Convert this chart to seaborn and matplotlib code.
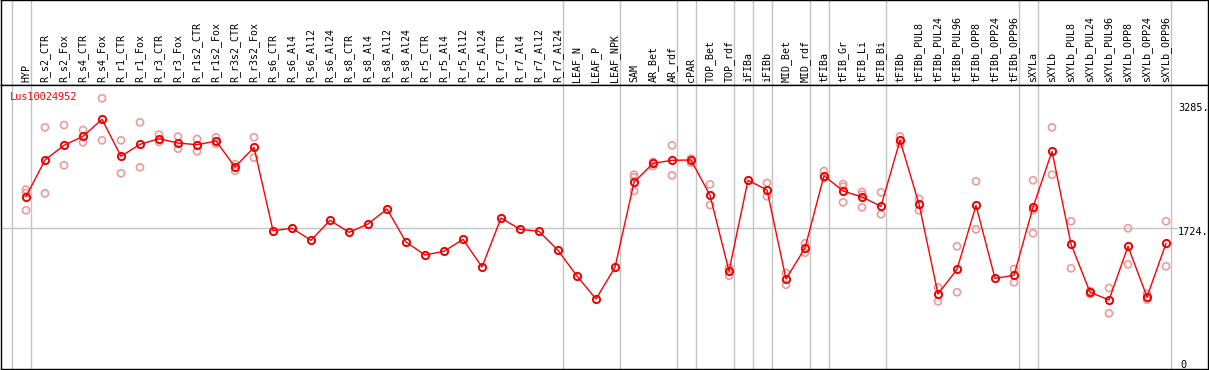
import numpy as np
import pandas as pd
import matplotlib
matplotlib.use("Agg")
import matplotlib.pyplot as plt
import seaborn as sns

title = "Lus10024952"

groups = [
    ["HYP"],
    ["R_s2_CTR", "R_s2_Fox", "R_s4_CTR", "R_s4_Fox", "R_r1_CTR", "R_r1_Fox",
     "R_r3_CTR", "R_r3_Fox", "R_r1s2_CTR", "R_r1s2_Fox", "R_r3s2_CTR", "R_r3s2_Fox",
     "R_s6_CTR", "R_s6_Al4", "R_s6_Al12", "R_s6_Al24", "R_s8_CTR", "R_s8_Al4",
     "R_s8_Al12", "R_s8_Al24", "R_r5_CTR", "R_r5_Al4", "R_r5_Al12", "R_r5_Al24",
     "R_r7_CTR", "R_r7_Al4", "R_r7_Al12", "R_r7_Al24"],
    ["LEAF_N", "LEAF_P", "LEAF_NPK"],
    ["SAM", "AR_Bet", "AR_rdf"],
    ["cPAR"],
    ["TOP_Bet", "TOP_rdf"],
    ["iFIBa"],
    ["iFIBb"],
    ["MID_Bet", "MID_rdf"],
    ["tFIBa"],
    ["tFIB_Gr", "tFIB_Li", "tFIB_Bi"],
    ["tFIBb", "tFIBb_PUL8", "tFIBb_PUL24", "tFIBb_PUL96", "tFIBb_OPP8",
     "tFIBb_OPP24", "tFIBb_OPP96"],
    ["sXYLa"],
    ["sXYLb", "sXYLb_PUL8", "sXYLb_PUL24", "sXYLb_PUL96", "sXYLb_OPP8",
     "sXYLb_OPP24", "sXYLb_OPP96"],
]

means = [
    2121,
    2582, 2766, 2879, 3093, 2628, 2779, 2849, 2795, 2774, 2820, 2494, 2741,
    1694, 1724, 1573, 1824, 1673, 1778, 1966, 1551, 1388, 1435, 1585, 1237,
    1853, 1711, 1686, 1447,
    1124, 835, 1234,
    2301, 2540, 2578,
    2582,
    2138, 1187,
    2327,
    2205,
    1087, 1476,
    2385,
    2192, 2117, 2000,
    2829, 2029, 898, 1208, 2012, 1095, 1133,
    1987,
    2691, 1526, 920, 823, 1497, 861, 1535,
]

replicates = [
    [2209, 2167, 1950],
    [2992, 2163], [3021, 2515], [2958, 2804], [3357, 2829], [2829, 2415],
    [3055, 2490], [2900, 2808], [2875, 2724], [2845, 2691], [2867, 2783],
    [2528, 2447], [2867, 2611],
    [], [], [], [], [], [], [], [], [], [], [], [], [], [], [], [],
    [], [], [],
    [2397, 2364, 2192], [2557, 2506], [2766, 2389],
    [2598, 2548],
    [2276, 2016], [1225, 1128],
    [],
    [2293, 2126],
    [1162, 1015], [1535, 1417],
    [2443, 2356],
    [2280, 2246, 2050], [2180, 2146, 1987], [2176, 1900],
    [2879, 2783], [2092, 1950], [982, 806], [1497, 920], [2314, 1711], [],
    [1212, 1045],
    [2327, 1953, 1661],
    [2992, 2397], [1812, 1221], [936, 898], [974, 656], [1724, 1271],
    [898, 827], [1812, 1246],
]

y_ticks = [0, 1724, 3285]
y_tick_labels = ["0", "1724.", "3285."]

labels = [c for g in groups for c in g]
n = len(labels)
idx = np.arange(n)

df_mean = pd.DataFrame({"idx": idx, "value": means})
rows = [(i, v) for i, reps in enumerate(replicates) for v in reps]
df_rep = pd.DataFrame(rows, columns=["idx", "value"])

sns.set_style("white")
plt.rcParams["font.family"] = ["DejaVu Sans Mono", "DejaVu Sans"]

W, H = 1209, 370
fig = plt.figure(figsize=(W / 100, H / 100), dpi=100)

px = 1 / W
py = 1 / H
ax_lab = fig.add_axes([1 * px, (H - 85) * py, 1207 * px, 85 * py])
ax = fig.add_axes([1 * px, 1 * py, 1207 * px, 284 * py])

xlim = ((1 - 26) / 19, (1208 - 26) / 19)
for a in (ax, ax_lab):
    a.set_xlim(*xlim)
    a.set_xticks([])
    a.set_yticks([])
    for s in a.spines.values():
        s.set_color("black")
        s.set_linewidth(1.0)

ax.set_ylim(-44, 3524)
ax_lab.set_ylim(0, 1)

# group separators
bounds = [-1]
acc = -1
for g in groups:
    acc += len(g)
    bounds.append(acc)
gray = "#c4c4c4"
for b in bounds:
    ax.axvline(b + 0.24, color=gray, lw=1.0, zorder=0)
    ax_lab.axvline(b + 0.24, color=gray, lw=1.0, zorder=0)

# mid line
ax.axhline(y_ticks[1], xmin=0, xmax=(1177 - 1) / 1207, color=gray, lw=1.0, zorder=0)

sns.scatterplot(data=df_rep, x="idx", y="value", ax=ax, marker="o", s=26,
                facecolors="none", edgecolor="#ef9a9a", linewidth=1.2, zorder=2,
                legend=False)
sns.lineplot(data=df_mean, x="idx", y="value", ax=ax, color="#ff0000", lw=1.0,
             marker="o", markersize=5.2, markerfacecolor="none",
             markeredgecolor="#ee0000", markeredgewidth=1.4, zorder=3,
             legend=False)
ax.set_xlabel("")
ax.set_ylabel("")

# y labels on the right inside
for v, t in zip(y_ticks, y_tick_labels):
    if v == 0:
        ax.text((1180 - 26) / 19, 0, t, fontsize=7.4, color="black",
                ha="left", va="center", transform=ax.transData)
    else:
        ax.annotate(t, xy=((1178 - 26) / 19, v), xytext=(0, -3),
                    textcoords="offset points", fontsize=7.4, color="black",
                    ha="left", va="center")

ax.annotate(title, xy=((10 - 26) / 19, 3285), xytext=(0, 5),
            textcoords="offset points", color="#ff0000", fontsize=7.4,
            ha="left", va="center")

for i, lab in enumerate(labels):
    ax_lab.text(i, 0.03, lab, rotation=90, ha="center", va="bottom",
                fontsize=7.2, color="black")

fig.savefig("out.png", dpi=100)
